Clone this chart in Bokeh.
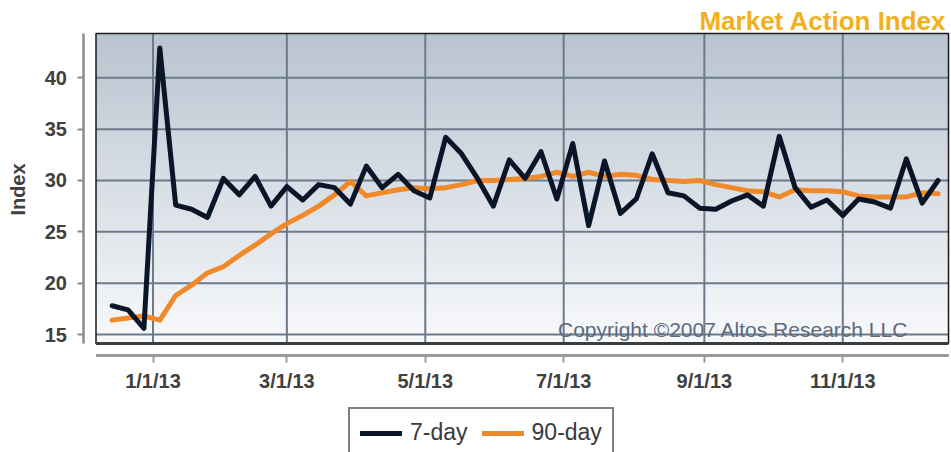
import math
import numpy as np
import pandas as pd
from bokeh.plotting import figure
from bokeh.models import (Range1d, LinearAxis, FixedTicker, Legend, LegendItem,
                          Label, ColumnDataSource)
from bokeh.embed import file_html
from bokeh.resources import INLINE

# ---------------- data ----------------
title_text = "Market Action Index"
y_label = "Index"
copyright_text = "Copyright \u00a92007 Altos Research LLC"
series_names = ["7-day", "90-day"]

week_dates = pd.date_range("2012-12-14", periods=53, freq="7D")

seven_day = [17.8, 17.4, 15.6, 42.9, 27.6, 27.2, 26.4, 30.2, 28.6, 30.4, 27.5,
             29.4, 28.1, 29.6, 29.3, 27.7, 31.4, 29.3, 30.6, 29.0, 28.3, 34.2,
             32.6, 30.2, 27.5, 32.0, 30.2, 32.8, 28.2, 33.6, 25.6, 31.9, 26.8,
             28.2, 32.6, 28.8, 28.5, 27.3, 27.2, 28.0, 28.6, 27.5, 34.3, 29.3,
             27.4, 28.1, 26.6, 28.2, 27.9, 27.3, 32.1, 27.8, 30.0]

ninety_day = [16.4, 16.6, 16.8, 16.4, 18.8, 19.8, 21.0, 21.6, 22.7, 23.7, 24.8,
              25.8, 26.6, 27.5, 28.6, 29.9, 28.5, 28.8, 29.1, 29.3, 29.2, 29.3,
              29.6, 30.0, 30.0, 30.1, 30.2, 30.4, 30.8, 30.4, 30.8, 30.4, 30.6,
              30.5, 30.1, 30.0, 29.9, 30.0, 29.6, 29.3, 29.0, 28.9, 28.4, 29.1,
              29.0, 29.0, 28.9, 28.5, 28.4, 28.4, 28.4, 28.8, 28.7]

x_tick_dates = ["2013-01-01", "2013-03-01", "2013-05-01", "2013-07-01",
                "2013-09-01", "2013-11-01"]
x_tick_labels = ["1/1/13", "3/1/13", "5/1/13", "7/1/13", "9/1/13", "11/1/13"]
y_ticks = [15, 20, 25, 30, 35, 40]

# ---------------- layout helpers (screen pixel -> data) ----------------
W, H = 951, 452
DAY = 86400000.0


def ms(d):
    return pd.Timestamp(d).value / 1e6


X_REF_MS = ms("2013-01-01")
X_REF_PX = 152.5
PX_PER_DAY = 2.269
Y_REF_PX = 77.3          # pixel row of the value 40
PX_PER_UNIT = 10.268


def x_at(px):
    return X_REF_MS + (px - X_REF_PX) / PX_PER_DAY * DAY


def y_at(px):
    return 40 + (Y_REF_PX - px) / PX_PER_UNIT


# plot-area box (pixels): left, right, top, bottom
PL, PR, PT, PB = 95.5, 948.0, 33.0, 343.0
pl, pr, pt, pb = x_at(PL), x_at(PR), y_at(PT), y_at(PB)
X_AXIS_ROW = y_at(355)
Y_AXIS_COL = x_at(82.5)

x_tick_ms = [ms(d) for d in x_tick_dates]

src = ColumnDataSource(dict(
    x=[ms(d) for d in week_dates],
    seven=seven_day,
    ninety=ninety_day,
))

FONT = "Liberation Sans"
LABEL_COLOR = "#404040"
GRID_COLOR = "#6c7b8b"
AXIS_COLOR = "#999999"

p = figure(width=W, height=H, output_backend="svg", toolbar_location=None,
           title=None, x_axis_type=None, y_axis_type=None,
           x_range=Range1d(x_at(0), x_at(W)), y_range=Range1d(y_at(H), y_at(0)),
           min_border=0, min_border_left=0, min_border_right=0,
           min_border_top=0, min_border_bottom=0)
p.background_fill_color = "white"
p.border_fill_color = "white"
p.outline_line_color = None

# gradient plot-area background
n = 256
top_rgb = np.array([0xB9, 0xC4, 0xD0], dtype=float)
bot_rgb = np.array([0xF8, 0xF9, 0xFB], dtype=float)
t = np.linspace(0, 1, n)[:, None]
cols = bot_rgb * (1 - t) + top_rgb * t
img = np.empty((n, 2), dtype=np.uint32)
view = img.view(dtype=np.uint8).reshape((n, 2, 4))
for k in range(3):
    view[:, :, k] = cols[:, k:k + 1].round().astype(np.uint8)
view[:, :, 3] = 255
p.image_rgba(image=[img], x=pl, y=pb, dw=pr - pl, dh=pt - pb, level="image")

# grid lines inside the plot area
p.segment(x0=x_tick_ms, x1=x_tick_ms, y0=[pb] * len(x_tick_ms), y1=[pt] * len(x_tick_ms),
          line_color=GRID_COLOR, line_width=2, level="underlay")
p.segment(x0=[pl] * len(y_ticks), x1=[pr] * len(y_ticks), y0=y_ticks, y1=y_ticks,
          line_color=GRID_COLOR, line_width=2, level="underlay")

# plot-area border
p.quad(left=[pl], right=[pr], bottom=[pb], top=[pt], fill_color=None,
       line_color="#1a1a1a", line_width=1.5, level="underlay")
p.segment(x0=[pl], x1=[pr], y0=[pb], y1=[pb], line_color="#3c3c3c", line_width=3,
          level="underlay")
# detached x-axis rule
p.segment(x0=[pl], x1=[pr], y0=[X_AXIS_ROW], y1=[X_AXIS_ROW], line_color=AXIS_COLOR,
          line_width=3, level="underlay")

# ---------------- lines ----------------
r90 = p.line(x="x", y="ninety", source=src, line_color="#F0892A", line_width=5,
             line_join="round", line_cap="round")
r7 = p.line(x="x", y="seven", source=src, line_color="#0A1528", line_width=5,
            line_join="round", line_cap="round")

# ---------------- axes (offset from the plot area) ----------------
yaxis = LinearAxis(ticker=FixedTicker(ticks=y_ticks), fixed_location=Y_AXIS_COL,
                   bounds=(pb, pt),
                   axis_line_color="#8c8c8c", axis_line_width=2.5,
                   major_tick_line_color="#8c8c8c", major_tick_line_width=2,
                   major_tick_out=6, major_tick_in=0,
                   minor_tick_line_color=None, minor_tick_out=0, minor_tick_in=0,
                   major_label_standoff=10,
                   major_label_text_font=FONT, major_label_text_font_size="20px",
                   major_label_text_font_style="bold", major_label_text_color=LABEL_COLOR)
p.add_layout(yaxis, "left")

xaxis = LinearAxis(ticker=FixedTicker(ticks=x_tick_ms), fixed_location=X_AXIS_ROW,
                   bounds=(pl, pr),
                   major_label_overrides={v: l for v, l in zip(x_tick_ms, x_tick_labels)},
                   axis_line_color=AXIS_COLOR, axis_line_width=3,
                   major_tick_line_color=AXIS_COLOR, major_tick_line_width=2,
                   major_tick_out=7, major_tick_in=0,
                   minor_tick_line_color=None, minor_tick_out=0, minor_tick_in=0,
                   major_label_standoff=7,
                   major_label_text_font=FONT, major_label_text_font_size="20px",
                   major_label_text_font_style="bold", major_label_text_color=LABEL_COLOR)
p.add_layout(xaxis, "below")

# ---------------- texts ----------------
p.add_layout(Label(x=x_at(17.5), y=y_at(189), text=y_label, angle=math.pi / 2,
                   text_font=FONT, text_font_size="20px", text_font_style="bold",
                   text_color=LABEL_COLOR, text_align="center", text_baseline="middle"))
p.add_layout(Label(x=x_at(946), y=y_at(20), text=title_text,
                   text_font=FONT, text_font_size="26px", text_font_style="bold",
                   text_color="#F2B01C", text_align="right", text_baseline="alphabetic"))
p.add_layout(Label(x=x_at(908), y=y_at(329), text=copyright_text,
                   text_font=FONT, text_font_size="21px",
                   text_color="#5c6b7e", text_align="right", text_baseline="alphabetic"))

legend = Legend(items=[LegendItem(label=series_names[0], renderers=[r7]),
                       LegendItem(label=series_names[1], renderers=[r90])],
                orientation="horizontal", location=(348, -6), margin=0,
                border_line_color="black", border_line_width=2,
                background_fill_color="white", background_fill_alpha=1,
                label_text_font=FONT, label_text_font_size="23px",
                label_text_color="#3a3a3a", glyph_width=42, label_standoff=8,
                spacing=14, padding=10)
p.add_layout(legend)

open("out.html", "w").write(file_html(p, INLINE))
